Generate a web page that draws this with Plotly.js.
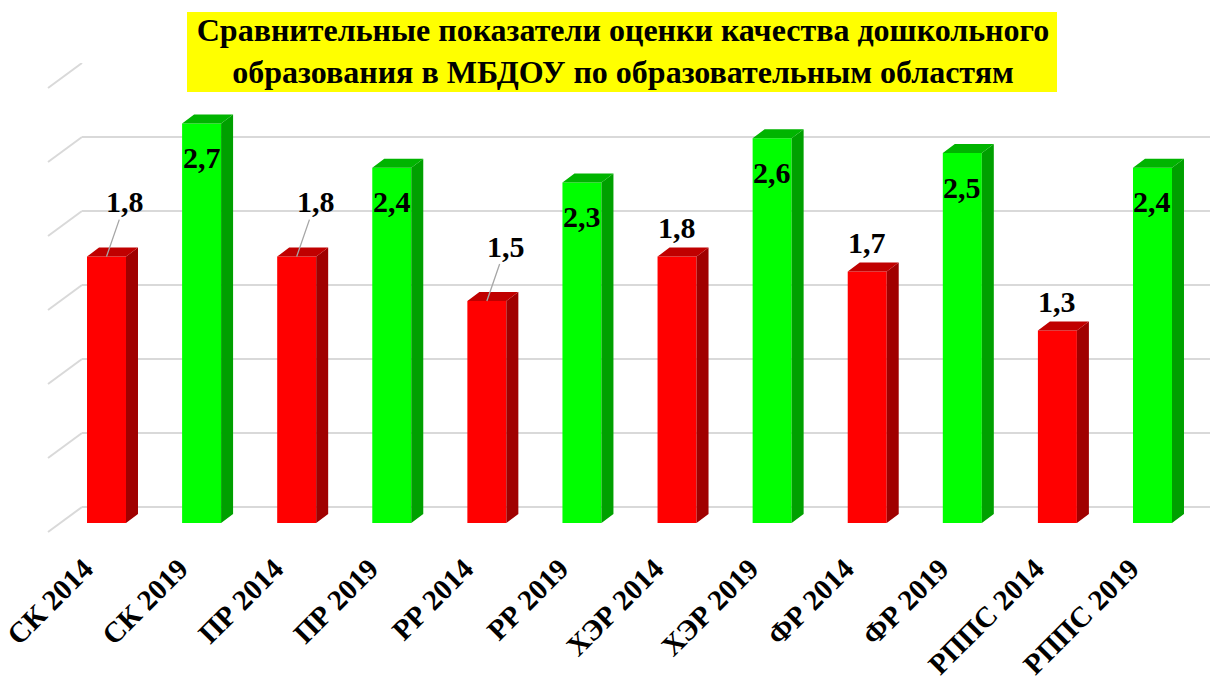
<!DOCTYPE html>
<html>
<head>
<meta charset="utf-8">
<script src="https://cdn.plot.ly/plotly-3.0.1.min.js"></script>
<style>html,body{margin:0;padding:0;background:#fff;}#chart{width:1210px;height:683px;}</style>
</head>
<body>
<div id="chart"></div>
<script>
// ---- data ----
const areas = ['СК', 'ПР', 'РР', 'ХЭР', 'ФР', 'РППС'];
const years = ['2014', '2019'];
const values2014 = [1.8, 1.8, 1.5, 1.8, 1.7, 1.3];
const values2019 = [2.7, 2.4, 2.3, 2.6, 2.5, 2.4];
const tickLabels = areas.flatMap(a => years.map(y => a + ' ' + y));
const chartTitle = 'Сравнительные показатели оценки качества дошкольного<br>образования в МБДОУ по образовательным областям';
const gridValues = [0, 0.5, 1, 1.5, 2, 2.5, 3];

// ---- styling / geometry ----
const W = 1210, H = 683;
const PX_PER_UNIT = 148;          // vertical px per value unit
const PX_PER_CAT = 95.09;         // horizontal px per category
const BAR_W = 0.41;               // front face width (category units)
const DEPTH_X = 12 / PX_PER_CAT;  // bar depth, x
const DEPTH_Y = 9 / PX_PER_UNIT;  // bar depth, y
const WALL_OFF = 25 / PX_PER_UNIT;// floor-front to wall offset
const FONT = 'Liberation Serif';

const x2014 = areas.map((a, k) => 2 * k);
const x2019 = areas.map((a, k) => 2 * k + 1);

function faces(xs, vs) {
  const side = {x: [], y: []}, top = {x: [], y: []};
  xs.forEach((x, i) => {
    const v = vs[i], l = x - BAR_W / 2, r = x + BAR_W / 2;
    side.x.push(r, r + DEPTH_X, r + DEPTH_X, r, r, null);
    side.y.push(0, DEPTH_Y, v + DEPTH_Y, v, 0, null);
    top.x.push(l, l + DEPTH_X, r + DEPTH_X, r, l, null);
    top.y.push(v, v + DEPTH_Y, v + DEPTH_Y, v, v, null);
  });
  return {side, top};
}
const f14 = faces(x2014, values2014);
const f19 = faces(x2019, values2019);

function faceTrace(pts, color) {
  return {type: 'scatter', mode: 'lines', x: pts.x, y: pts.y, fill: 'toself',
    fillcolor: color, line: {width: 0, color: color}, hoverinfo: 'skip',
    showlegend: false, xaxis: 'x2', yaxis: 'y2'};
}

const traces = [
  {type: 'scatter', mode: 'markers', x: [0.5], y: [1], marker: {opacity: 0},
   hoverinfo: 'skip', showlegend: false, xaxis: 'x', yaxis: 'y'},
  {type: 'bar', name: '2014', x: x2014, y: values2014, width: BAR_W,
   marker: {color: '#ff0000', line: {width: 0}}, xaxis: 'x2', yaxis: 'y2', showlegend: false},
  {type: 'bar', name: '2019', x: x2019, y: values2019, width: BAR_W,
   marker: {color: '#00ff00', line: {width: 0}}, xaxis: 'x2', yaxis: 'y2', showlegend: false},
  faceTrace(f14.side, '#a00000'),
  faceTrace(f14.top, '#c00000'),
  faceTrace(f19.side, '#00a000'),
  faceTrace(f19.top, '#00b400')
];

const fmt = v => v.toFixed(1).replace('.', ',');
const labelFont = {family: FONT, size: 30, color: '#000', weight: 'bold'};
const annotations = [];
x2014.forEach((x, i) => {
  const lead = i < 3;
  annotations.push(lead ? {
    xref: 'x2', yref: 'y2', x: x, y: values2014[i], text: fmt(values2014[i]),
    showarrow: true, arrowhead: 0, arrowwidth: 1.3, arrowcolor: '#a6a6a6',
    ax: 19, ay: -55, font: labelFont
  } : {
    xref: 'x2', yref: 'y2', x: x, y: values2014[i], text: fmt(values2014[i]),
    showarrow: false, yanchor: 'middle', yshift: 29, font: labelFont
  });
});
x2019.forEach((x, i) => {
  annotations.push({xref: 'x2', yref: 'y2', x: x, y: values2019[i], text: fmt(values2019[i]),
    showarrow: false, yanchor: 'middle', yshift: -34, font: labelFont});
});

const shapes = gridValues.map(v => ({
  type: 'line', xref: 'paper', yref: 'y', x0: 48 / W, x1: 82 / W,
  y0: v - WALL_OFF, y1: v, line: {color: '#d9d9d9', width: 2}
}));
shapes.push({type: 'rect', xref: 'paper', yref: 'paper', layer: 'above',
  x0: 187 / W, x1: 1057 / W, y0: 1 - 92 / H, y1: 1 - 12 / H,
  fillcolor: '#ffff00', line: {width: 0}});

const layout = {
  width: W, height: H,
  margin: {l: 0, r: 0, t: 0, b: 0, pad: 0},
  paper_bgcolor: '#ffffff', plot_bgcolor: 'rgba(0,0,0,0)',
  barmode: 'overlay',
  showlegend: false,
  title: {text: chartTitle, x: 623 / W, xanchor: 'center', y: 1 - 41 / H, yanchor: 'middle',
    font: {family: FONT, size: 32, color: '#000', weight: 'bold'}},
  xaxis: {domain: [82 / W, 1], range: [0, 1], showgrid: false, zeroline: false,
    showline: false, showticklabels: false, ticks: '', fixedrange: true},
  yaxis: {domain: [1 - (507 + 0.2 * PX_PER_UNIT) / H, 1 - 63 / H], range: [-0.2, 3],
    tickvals: gridValues, showgrid: true, gridcolor: '#d9d9d9', gridwidth: 2,
    zeroline: false, showline: false, showticklabels: false, ticks: '', anchor: 'x'},
  xaxis2: {domain: [(106.5 - PX_PER_CAT / 2) / W, (106.5 + 11.5 * PX_PER_CAT) / W],
    range: [-0.5, 11.5], anchor: 'y2', tickmode: 'array',
    tickvals: tickLabels.map((t, i) => i), ticktext: tickLabels, tickangle: -45,
    tickfont: {family: FONT, size: 29, color: '#000', weight: 'bold'},
    ticklabelstandoff: 22, ticklabelshift: -22,
    showgrid: false, zeroline: false, showline: false, ticks: ''},
  yaxis2: {domain: [1 - 523 / H, 1 - 79 / H], range: [0, 3], anchor: 'x2',
    showgrid: false, zeroline: false, showline: false, showticklabels: false, ticks: ''},
  annotations: annotations,
  shapes: shapes
};

Plotly.newPlot('chart', traces, layout, {displayModeBar: false, staticPlot: true});
</script>
</body>
</html>
